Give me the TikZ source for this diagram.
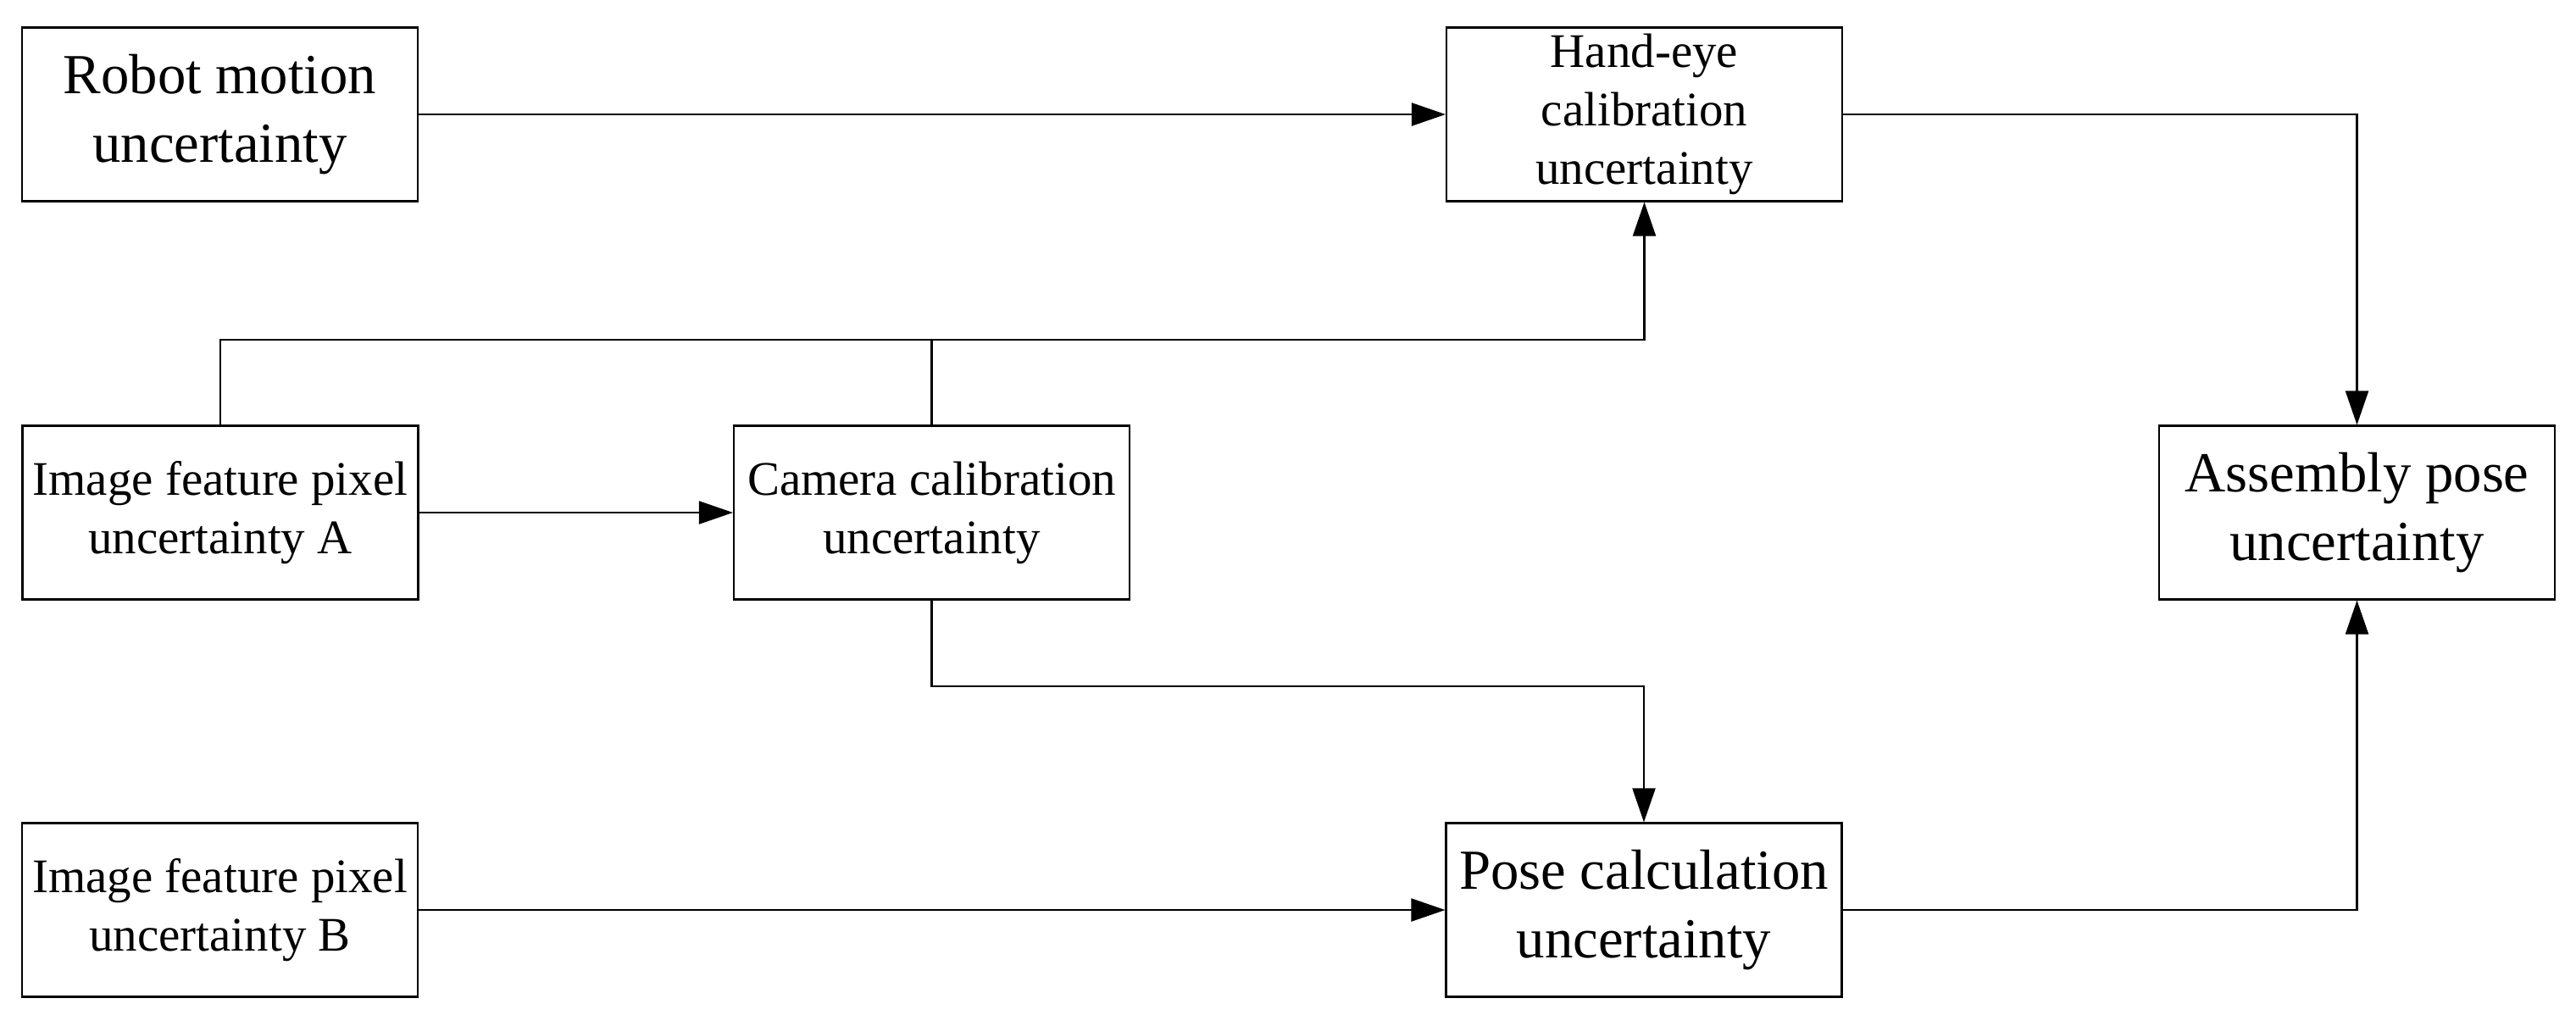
\documentclass[tikz,border=0pt]{standalone}
\usepackage{fontspec}
\setmainfont{Liberation Serif}
\usetikzlibrary{arrows.meta}

\begin{document}
\begin{tikzpicture}

\useasboundingbox (0, 0) rectangle (30.40, -11.97);

\begin{scope}[every node/.style={draw, line width=0.6pt, align=center,
              minimum width=4.67cm, minimum height=2.05cm, inner sep=1pt}]
    \node (robot) at (2.595, -1.35) [font=\fontsize{19pt}{23pt}\selectfont] {Robot motion\\uncertainty};
    \node (handeye) at (19.405, -1.35) [font=\fontsize{16.2pt}{19.6pt}\selectfont] {Hand-eye\\calibration\\uncertainty};

    \node (imga) at (2.60, -6.05) [font=\fontsize{16.2pt}{19.6pt}\selectfont] {Image feature pixel\\uncertainty A};
    \node (camera) at (10.995, -6.05) [font=\fontsize{16.2pt}{19.6pt}\selectfont] {Camera calibration\\uncertainty};
    \node (assembly) at (27.815, -6.05) [font=\fontsize{19pt}{23pt}\selectfont] {Assembly pose\\uncertainty};

    \node (imgb) at (2.595, -10.74) [font=\fontsize{16.2pt}{19.6pt}\selectfont] {Image feature pixel\\uncertainty B};
    \node (pose) at (19.40, -10.74) [font=\fontsize{19pt}{23pt}\selectfont] {Pose calculation\\uncertainty};
\end{scope}

\coordinate (split) at (10.995, -4.01);

\begin{scope}[>={Triangle[length=4mm, width=2.7mm]}, line width=0.6pt]
    \draw [->] (robot) -- (handeye);
    \draw [->] (imga.north) |- (split) -| (handeye.south);
    \draw (camera.north) -- (split);

    \draw [->] (imga) -- (camera);
    \draw [->] (camera.south) -- ++(0, -1.015) -| (pose.north);

    \draw [->] (imgb) -- (pose);

    \draw [->] (handeye.east) -| (assembly.north);
    \draw [->] (pose.east) -| (assembly.south);
\end{scope}

\end{tikzpicture}
\end{document}
